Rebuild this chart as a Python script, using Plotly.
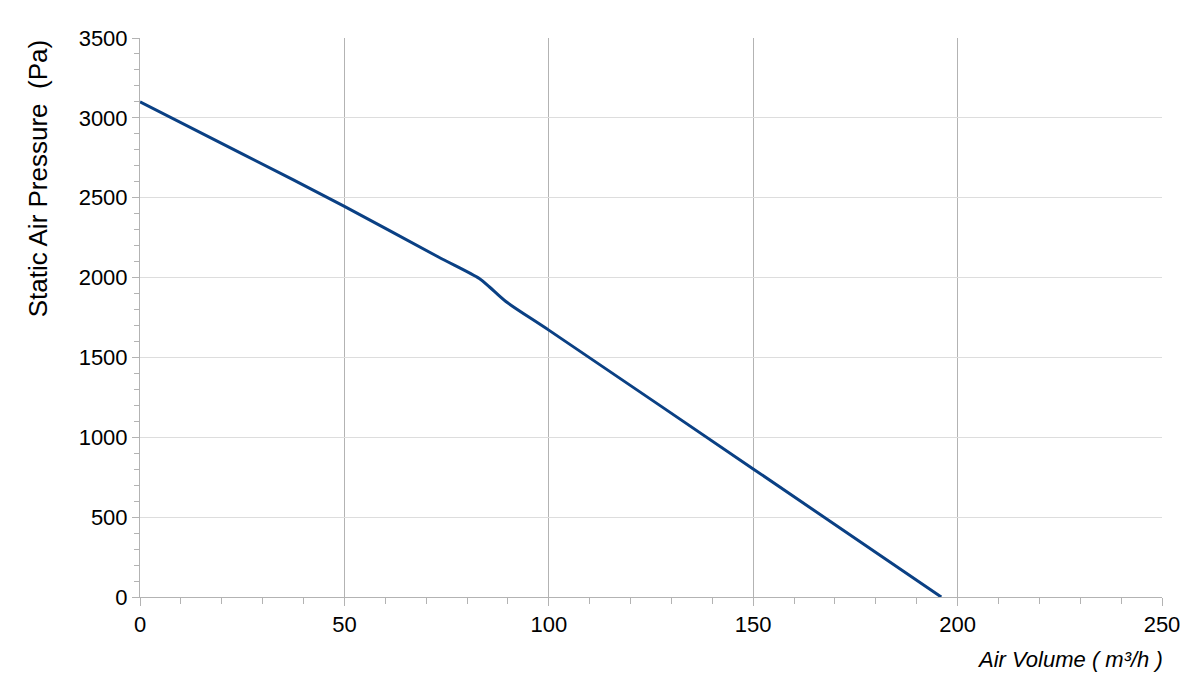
import plotly.graph_objects as go

# fan curve
air_volume = [0, 25, 50, 73, 83, 85.5, 89.5, 100, 150, 196]
static_pressure = [3100, 2775, 2446, 2129, 1994, 1941, 1850, 1671, 802, 0]

x_ticks = [0, 50, 100, 150, 200, 250]
y_ticks = [0, 500, 1000, 1500, 2000, 2500, 3000, 3500]

font = 'Liberation Sans, Arial, sans-serif'

fig = go.Figure()
fig.add_trace(go.Scatter(
    x=air_volume, y=static_pressure, mode='lines',
    line=dict(color='#0a4084', width=3, shape='spline', smoothing=0.8),
    showlegend=False, hoverinfo='x+y',
))

fig.update_xaxes(
    range=[0, 250], tickvals=x_ticks, showgrid=True, gridcolor='#b3b3b3', gridwidth=1,
    showline=True, linecolor='#b3b3b3', linewidth=1, zeroline=False,
    ticks='outside', ticklen=8, tickcolor='#b3b3b3',
    minor=dict(dtick=10, ticks='outside', ticklen=6, tickcolor='#b3b3b3', showgrid=False),
    tickfont=dict(family=font, size=22, color='#000000'),
)
fig.update_yaxes(
    range=[0, 3500], tickvals=y_ticks, showgrid=True, gridcolor='#dddddd', gridwidth=1,
    showline=True, linecolor='#b3b3b3', linewidth=1, zeroline=False,
    ticks='outside', ticklen=7, tickcolor='#b3b3b3',
    minor=dict(dtick=100, ticks='outside', ticklen=5, tickcolor='#b3b3b3', showgrid=False),
    tickfont=dict(family=font, size=22, color='#000000'),
)

fig.add_annotation(
    text='Static Air Pressure  (Pa)', xref='paper', yref='paper',
    x=-0.1, y=1.0, xanchor='center', yanchor='top', textangle=-90, showarrow=False,
    font=dict(family=font, size=26, color='#000000'),
)
fig.add_annotation(
    text='<i>Air Volume ( m³/h )</i>', xref='paper', yref='paper',
    x=1.003, y=-0.085, xanchor='right', yanchor='top', showarrow=False,
    font=dict(family=font, size=22, color='#000000'),
)

# page body adds an 8px margin, so the figure is a bit smaller than the window
fig.update_layout(
    width=1192, height=676,
    margin=dict(l=132, r=38, t=30, b=87),
    paper_bgcolor='white', plot_bgcolor='white',
)

fig.write_html('out.html')
